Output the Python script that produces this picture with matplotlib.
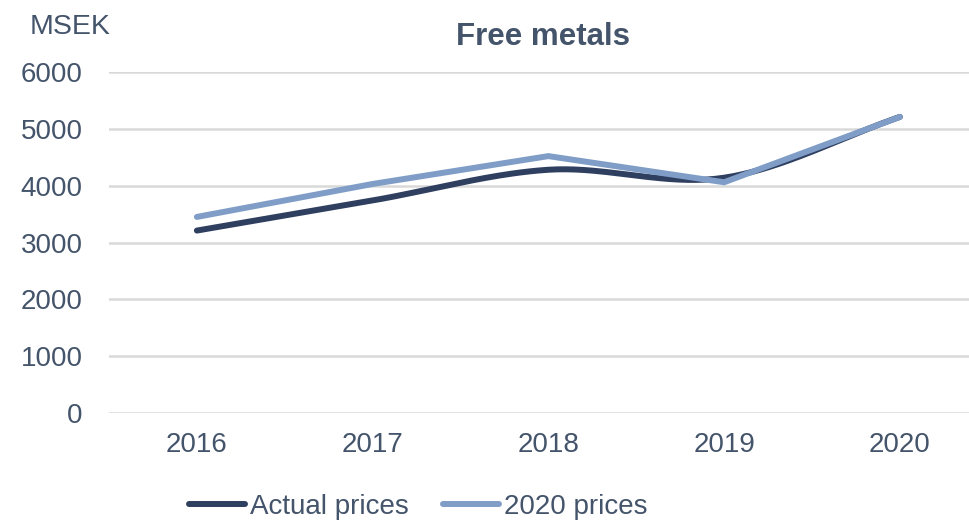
import numpy as np
import matplotlib
matplotlib.use("Agg")
import matplotlib.pyplot as plt
from matplotlib.lines import Line2D

years = ["2016", "2017", "2018", "2019", "2020"]
actual_prices = [3210, 3740, 4280, 4140, 5210]
prices_2020 = [3450, 4030, 4520, 4060, 5210]

TEXT = "#44546A"
DARK = "#2F3F60"
LIGHT = "#7F9DC6"
GRID = "#D9D9D9"

plt.rcParams["font.family"] = ["Liberation Sans", "DejaVu Sans"]


def smooth(y, n=40):
    # catmull-rom style smoothing like Excel's "smoothed line"
    y = np.asarray(y, dtype=float)
    x = np.arange(len(y), dtype=float)
    px = np.concatenate([[2 * x[0] - x[1]], x, [2 * x[-1] - x[-2]]])
    py = np.concatenate([[2 * y[0] - y[1]], y, [2 * y[-1] - y[-2]]])
    xs, ys = [], []
    for i in range(1, len(px) - 2):
        t = np.linspace(0, 1, n)
        for arr, out in ((px, xs), (py, ys)):
            p0, p1, p2, p3 = arr[i - 1], arr[i], arr[i + 1], arr[i + 2]
            out.extend(0.5 * ((2 * p1) + (-p0 + p2) * t
                              + (2 * p0 - 5 * p1 + 4 * p2 - p3) * t ** 2
                              + (-p0 + 3 * p1 - 3 * p2 + p3) * t ** 3))
    return np.array(xs), np.array(ys)


fig = plt.figure(figsize=(9.69, 5.21), dpi=100)
W, H = 969, 521
left, right, top, bottom = 109, 969, 72, 413
ax = fig.add_axes([left / W, 1 - bottom / H, (right - left) / W, (bottom - top) / H])

step = 175.75
ax.set_xlim(-0.5, -0.5 + (right - left) / step)
ax.set_ylim(0, 6000)

sx, sy = smooth(actual_prices)
ax.plot(sx, sy, color=DARK, lw=4.3, solid_capstyle="round", zorder=3)
ax.plot(range(len(years)), prices_2020, color=LIGHT, lw=4.3,
        solid_capstyle="round", solid_joinstyle="miter", zorder=4)

ax.set_yticks(range(0, 6001, 1000))
ax.yaxis.grid(True, color=GRID, lw=1.8)
ax.set_axisbelow(True)
ax.set_xticks(range(len(years)))
ax.set_xticklabels(years)
for s in ax.spines.values():
    s.set_visible(False)
ax.tick_params(axis="both", length=0, labelsize=20, labelcolor=TEXT)
ax.tick_params(axis="y", pad=19)
ax.tick_params(axis="x", pad=14)

fig.text(543 / W, 1 - 37 / H, "Free metals", ha="center", va="center",
         fontsize=22.5, fontweight="bold", color=TEXT)
fig.text(30 / W, 1 - 27 / H, "MSEK", ha="left", va="center", fontsize=20.5, color=TEXT)

handles = [Line2D([], [], color=DARK, lw=4.3, solid_capstyle="round"),
           Line2D([], [], color=LIGHT, lw=4.3, solid_capstyle="round")]
fig.legend(handles, ["Actual prices", "2020 prices"], loc="center",
           bbox_to_anchor=(418 / W, 1 - 507 / H), ncol=2, frameon=False,
           fontsize=20, labelcolor=TEXT, handlelength=2.0, handletextpad=0.18,
           columnspacing=1.25, borderpad=0)

fig.savefig("out.png", dpi=100)
